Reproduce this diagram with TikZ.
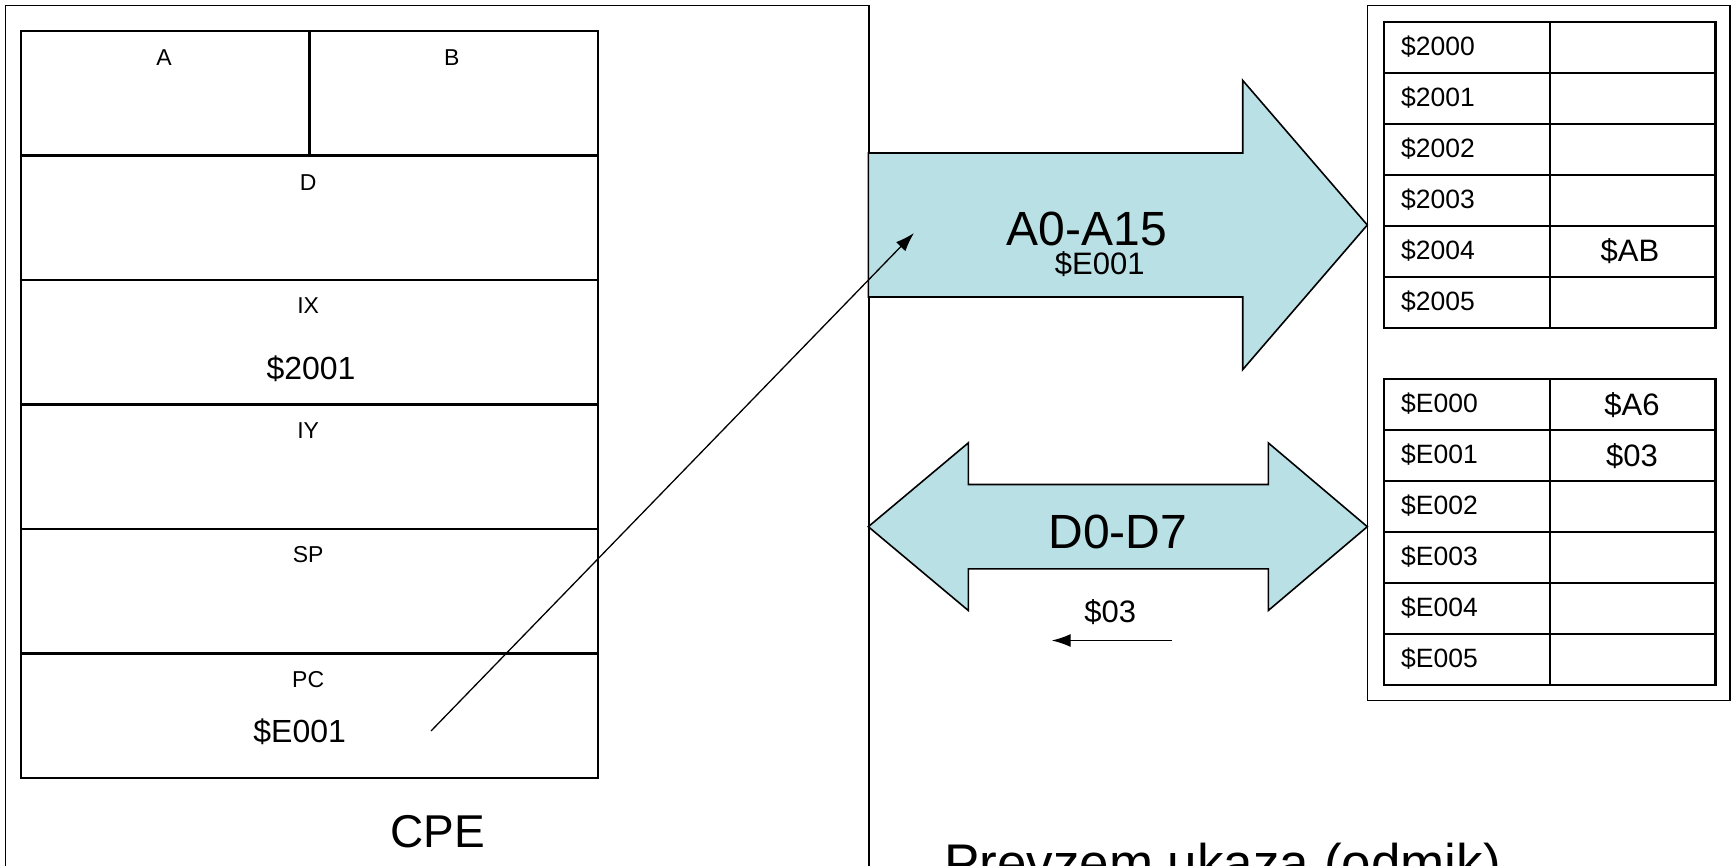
\documentclass[tikz,border=0pt]{standalone}
\usepackage{fontspec}
\setmainfont{Liberation Sans}
\usetikzlibrary{arrows.meta,positioning}
\definecolor{busblue}{RGB}{185,224,228}

\tikzset{
  frame/.style={draw, line width=1.6pt},
  reg/.style={draw, line width=2.4pt, inner sep=0pt, anchor=north west},
  bus/.style={draw, line width=1.6pt, fill=busblue, line join=miter},
  ptr/.style={-{Latex[length=19pt,width=13pt]}, line width=1.3pt},
  regname/.style={font=\fontsize{23}{28}\selectfont},
  regval/.style={font=\fontsize{32}{38}\selectfont},
  busname/.style={font=\fontsize{48}{56}\selectfont},
  busval/.style={font=\fontsize{31}{37}\selectfont},
  memaddr/.style={font=\fontsize{26.5}{31}\selectfont, anchor=west, inner sep=0pt},
  memval/.style={font=\fontsize{31}{37}\selectfont},
  bigtxt/.style={font=\fontsize{46}{55}\selectfont}
}

\begin{document}
\begin{tikzpicture}[x=1pt,y=-1pt]
  \useasboundingbox (0,0) rectangle (1732,866);
  \clip (0,0) rectangle (1732,866);

  % CPE
  \draw[frame] (5.5,5.5) rectangle (869,900);
  \node(cA) at (19.9,29.8) [reg, minimum width=288.3, minimum height=124.5] {};
  \node(cB) at (308.2,29.8) [reg, minimum width=288.3, minimum height=124.5] {};
  \node(cD) at (19.9,154.3) [reg, minimum width=576.6, minimum height=124.4] {};
  \node(cIX) at (19.9,278.7) [reg, minimum width=576.6, minimum height=124.5] {};
  \node(cIY) at (19.9,403.2) [reg, minimum width=576.6, minimum height=124.4] {};
  \node(cSP) at (19.9,527.6) [reg, minimum width=576.6, minimum height=124.5] {};
  \node(cPC) at (19.9,652.1) [reg, minimum width=576.6, minimum height=124.4] {};

  \node(tA) at (164,58) [regname] {A};
  \node(tB) at (451.8,58) [regname] {B};
  \node(tD) at (308.2,182.3) [regname] {D};
  \node(tIX) at (308.2,306) [regname] {IX};
  \node(ixval) at (311,369) [regval] {\$2001};
  \node(tIY) at (308.2,430.8) [regname] {IY};
  \node(tSP) at (308.2,554.5) [regname] {SP};
  \node(tPC) at (308.2,679.3) [regname] {PC};
  \node(pcval) at (299.7,732) [regval] {\$E001};
  \node(cpe) at (438,832) [bigtxt] {CPE};

  % pomnilnik
  \draw[frame] (1367.5,5.5) rectangle (1729.8,700.3);
  \foreach \adr [count=\i from 0] in {2000,2001,2002,2003,2004,2005}{
    \node(ma\i) at (1383,21+51*\i) [reg, minimum width=165.8, minimum height=51] {};
    \node(mv\i) at (1548.8,21+51*\i) [reg, minimum width=165.6, minimum height=51] {};
    \node(la\i) at (1401,46.5+51*\i) [memaddr] {\$\adr};
  }
  \foreach \adr [count=\i from 0] in {E000,E001,E002,E003,E004,E005}{
    \node(mb\i) at (1383,377.8+51*\i) [reg, minimum width=165.8, minimum height=51] {};
    \node(mw\i) at (1548.8,377.8+51*\i) [reg, minimum width=165.6, minimum height=51] {};
    \node(lb\i) at (1401,403.3+51*\i) [memaddr] {\$\adr};
  }
  \node(vAB) at (1630,251.5) [memval] {\$AB};
  \node(vA6) at (1632,405) [memval] {\$A6};
  \node(v03) at (1632,456) [memval] {\$03};

  % vodila
  \draw[bus] (868.3,153) -- (1242.7,153) -- (1242.7,80.4) -- (1367.3,225)
    -- (1242.7,369.6) -- (1242.7,297) -- (868.3,297) -- cycle;
  \draw[bus] (868.3,526.7) -- (968.3,442.9) -- (968.3,484.5) -- (1268.3,484.5)
    -- (1268.3,442.9) -- (1367.3,526.7) -- (1268.3,610.5) -- (1268.3,568.9)
    -- (968.3,568.9) -- (968.3,610.5) -- cycle;
  \node(abus) at (1086.7,228.5) [busname] {A0-A15};
  \node(abusv) at (1099.8,264.5) [busval] {\$E001};
  \node(dbus) at (1117.8,531.5) [busname] {D0-D7};
  \node(dbusv) at (1110.3,612) [busval] {\$03};

  \coordinate (pcptr) at (431,731);
  \coordinate (abusin) at (914,233);
  \coordinate (dfrom) at (1171.7,640.5);
  \coordinate (dto) at (1051.7,640.5);
  \draw[ptr] (pcptr) -- (abusin);
  \draw[ptr] (dfrom) -- (dto);

  \node(fetch) at (944,881.5) [bigtxt, font=\fontsize{53}{63}\selectfont, anchor=base west, inner sep=0pt] {Prevzem ukaza (odmik)};
\end{tikzpicture}
\end{document}
